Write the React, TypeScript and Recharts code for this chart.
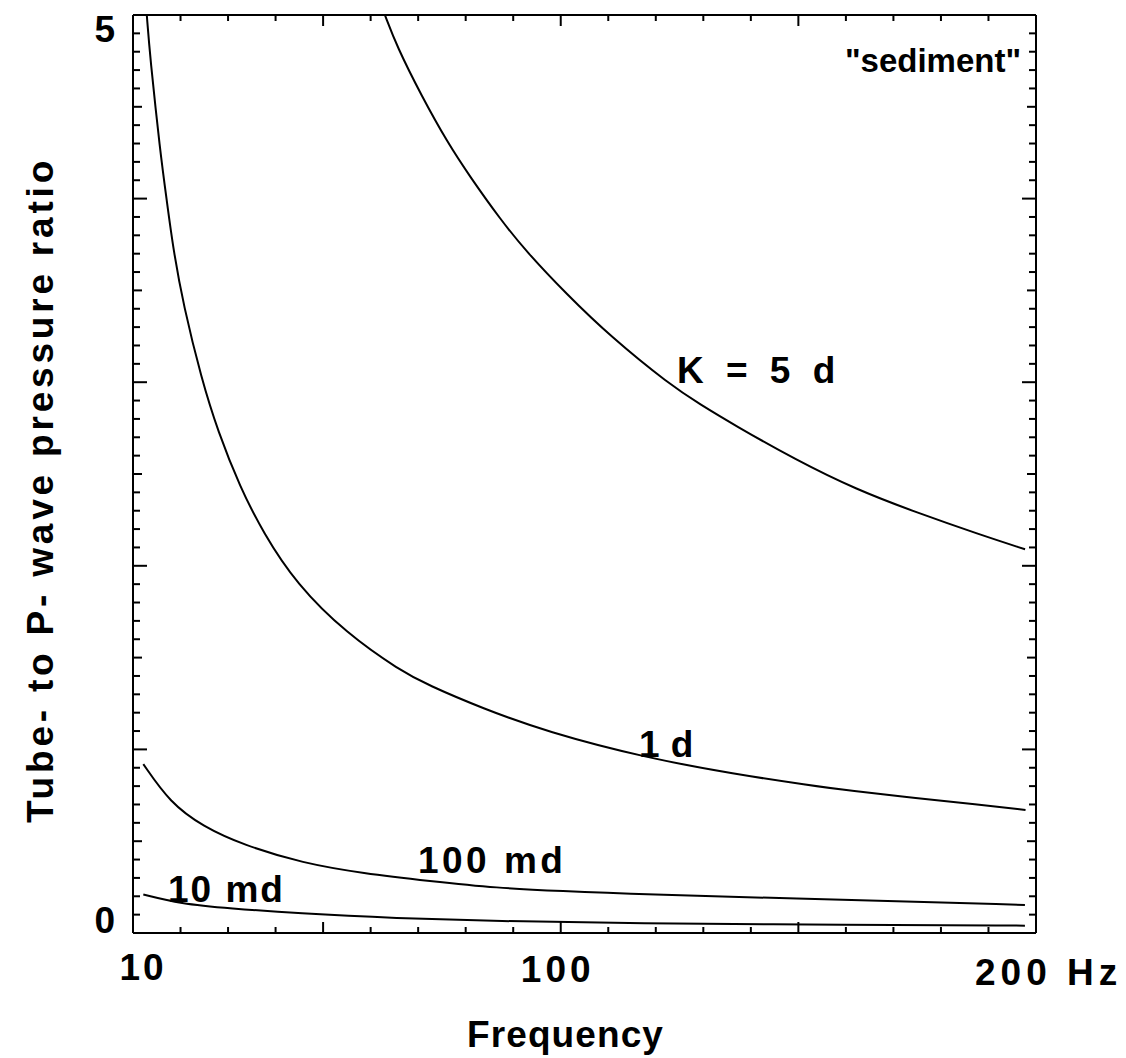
import React from "react";
import { Label, Line, LineChart, ReferenceDot, XAxis, YAxis } from "recharts";

const FONT = '"Liberation Sans", Arial, Helvetica, sans-serif';

// curves: frequency (Hz) and tube-to-P pressure ratio
const K5D_FREQ = [63.0, 65.5, 70.7, 76.3, 80.9, 87.2, 92.8, 101.2, 110.4, 123.0, 129.3, 136.3, 149.6, 162.2, 174.9, 188.2, 197.7];
const K5D_RATIO = [5.0, 4.83, 4.56, 4.3, 4.12, 3.89, 3.71, 3.48, 3.25, 2.985, 2.88, 2.77, 2.575, 2.415, 2.29, 2.17, 2.09];

const K1D_FREQ = [12.9, 13.6, 15.7, 17.1, 18.5, 20.6, 24.4, 27.9, 32.5, 37.4, 44.4, 55.0, 66.2, 72.1, 83.4, 97.1, 117.8, 136.7, 152.2, 160.9, 174.9, 187.5, 197.8];
const K1D_RATIO = [5.0, 4.77, 4.26, 3.99, 3.72, 3.42, 3.02, 2.73, 2.43, 2.18, 1.9, 1.63, 1.43, 1.35, 1.225, 1.095, 0.955, 0.865, 0.805, 0.775, 0.735, 0.7, 0.67];

const K100MD_FREQ = [12.17, 17.78, 24.73, 33.14, 45.77, 58.39, 72.49, 86.52, 100.47, 114.57, 160.85, 197.67];
const K100MD_RATIO = [0.92, 0.71, 0.58, 0.48, 0.38, 0.325, 0.283, 0.245, 0.228, 0.212, 0.18, 0.153];

const K10MD_FREQ = [12.17, 19.89, 30.41, 44.44, 65.48, 86.52, 114.57, 160.85, 197.67];
const K10MD_RATIO = [0.21, 0.16, 0.134, 0.107, 0.08, 0.065, 0.052, 0.045, 0.04];

const X_TICKS = [10, 20, 30, 40, 50, 60, 70, 80, 90, 100, 110, 120, 130, 140, 150, 160, 170, 180, 190, 200];
const X_LABELS: Record<number, string> = { 10: "10", 100: "100", 200: "200 Hz" };
const Y_TICKS = Array.from({ length: 51 }, (_, i) => i / 10);
const Y_LABELS: Record<number, string> = { 0: "0", 5: "5" };

// curve labels, anchored in data units (left end of the text baseline)
const CURVE_LABELS = [
  { text: "K = 5 d", f: 124.45, v: 2.996, spacing: 6, size: 37 },
  { text: "1 d", f: 116.46, v: 0.959, spacing: 0.5, size: 37 },
  { text: "100 md", f: 69.96, v: 0.327, spacing: 3.5, size: 37 },
  { text: "10 md", f: 17.36, v: 0.169, spacing: 2, size: 37 },
  { text: "\"sediment\"", f: 159.8, v: 4.69, spacing: 0, size: 33 }
];

function zip(freq: number[], ratio: number[]) {
  return freq.map((f, i) => ({ f, v: ratio[i] }));
}

const SERIES = [
  { key: "k5d", data: zip(K5D_FREQ, K5D_RATIO) },
  { key: "k1d", data: zip(K1D_FREQ, K1D_RATIO) },
  { key: "k100md", data: zip(K100MD_FREQ, K100MD_RATIO) },
  { key: "k10md", data: zip(K10MD_FREQ, K10MD_RATIO) }
];

const textStyle = { fontFamily: FONT, fontWeight: 700, fill: "#000" };

function xTickLen(value: number) {
  return value % 50 === 0 ? 11 : 6;
}

function yTickLen(value: number) {
  if (Math.abs(value - Math.round(value)) < 1e-6) return 14;
  if (Math.abs(value * 2 - Math.round(value * 2)) < 1e-6) return 9;
  return 7;
}

function BottomTick(props: any) {
  const { x, y, payload } = props;
  const value = payload.value as number;
  const label = X_LABELS[value];
  let anchor: "start" | "middle" = "middle";
  let dx = 0;
  let dy = 49;
  let spacing = 3;
  if (value === 10) {
    dx = 10;
    dy = 47;
  } else if (value === 100) {
    dx = -3;
    spacing = 4;
  } else if (value === 200) {
    anchor = "start";
    dx = -61;
    dy = 52;
    spacing = 5;
  }
  return (
    <g>
      <line x1={x} y1={y} x2={x} y2={y - xTickLen(value)} stroke="#000" strokeWidth={2} />
      {label ? (
        <text x={x + dx} y={y + dy} textAnchor={anchor} fontSize={37} letterSpacing={spacing} style={textStyle}>
          {label}
        </text>
      ) : null}
    </g>
  );
}

function TopTick(props: any) {
  const { x, y, payload } = props;
  return <line x1={x} y1={y} x2={x} y2={y + xTickLen(payload.value)} stroke="#000" strokeWidth={2} />;
}

function LeftTick(props: any) {
  const { x, y, payload } = props;
  const value = payload.value as number;
  const isWhole = Math.abs(value - Math.round(value)) < 1e-6;
  const label = isWhole ? Y_LABELS[Math.round(value)] : undefined;
  return (
    <g>
      <line x1={x} y1={y} x2={x + yTickLen(value)} y2={y} stroke="#000" strokeWidth={2} />
      {label !== undefined ? (
        <text x={x - 18} y={value > 2 ? y + 27 : y} textAnchor="end" fontSize={37} style={textStyle}>
          {label}
        </text>
      ) : null}
    </g>
  );
}

function RightTick(props: any) {
  const { x, y, payload } = props;
  return <line x1={x} y1={y} x2={x - yTickLen(payload.value)} y2={y} stroke="#000" strokeWidth={2} />;
}

function FrequencyTitle(props: any) {
  const vb = props.viewBox;
  return (
    <text x={vb.x + 334} y={vb.y + 114} fontSize={37} letterSpacing={1.1} style={textStyle}>
      Frequency
    </text>
  );
}

function RatioTitle(props: any) {
  const vb = props.viewBox;
  const cx = vb.x + 53;
  const cy = vb.y + 475;
  return (
    <text
      x={cx}
      y={cy}
      transform={`rotate(-90 ${cx} ${cy})`}
      textAnchor="middle"
      fontSize={37}
      letterSpacing={3.8}
      style={textStyle}
    >
      Tube- to P- wave pressure ratio
    </text>
  );
}

export default function App() {
  return (
    <div style={{ position: "absolute", left: 0, top: 0, width: 1126, height: 1058, background: "#fff" }}>
      <LineChart width={1126} height={1058} margin={{ top: 0, right: 0, bottom: 0, left: 0 }}>
        <XAxis
          type="number"
          dataKey="f"
          domain={[10, 200]}
          allowDataOverflow
          ticks={X_TICKS}
          interval={0}
          height={125}
          tickSize={0}
          tickMargin={0}
          tickLine={false}
          axisLine={{ stroke: "#000", strokeWidth: 2 }}
          tick={(p: any) => <BottomTick {...p} />}
        >
          <Label content={(p: any) => <FrequencyTitle {...p} />} />
        </XAxis>
        <XAxis
          xAxisId="top"
          orientation="top"
          type="number"
          dataKey="f"
          domain={[10, 200]}
          allowDataOverflow
          ticks={X_TICKS}
          interval={0}
          height={15}
          tickSize={0}
          tickMargin={0}
          tickLine={false}
          axisLine={{ stroke: "#000", strokeWidth: 2 }}
          tick={(p: any) => <TopTick {...p} />}
        />
        <YAxis
          type="number"
          domain={[0, 5]}
          allowDataOverflow
          ticks={Y_TICKS}
          interval={0}
          width={133}
          tickSize={0}
          tickMargin={0}
          tickLine={false}
          axisLine={{ stroke: "#000", strokeWidth: 2 }}
          tick={(p: any) => <LeftTick {...p} />}
        >
          <Label content={(p: any) => <RatioTitle {...p} />} />
        </YAxis>
        <YAxis
          yAxisId="right"
          orientation="right"
          type="number"
          domain={[0, 5]}
          allowDataOverflow
          ticks={Y_TICKS}
          interval={0}
          width={90}
          tickSize={0}
          tickMargin={0}
          tickLine={false}
          axisLine={{ stroke: "#000", strokeWidth: 2 }}
          tick={(p: any) => <RightTick {...p} />}
        />
        {SERIES.map((s) => (
          <Line
            key={s.key}
            data={s.data}
            dataKey="v"
            type="basis"
            stroke="#000"
            strokeWidth={2}
            dot={false}
            activeDot={false}
            isAnimationActive={false}
          />
        ))}
        {CURVE_LABELS.map((l) => (
          <ReferenceDot
            key={l.text}
            x={l.f}
            y={l.v}
            r={0}
            ifOverflow="visible"
            shape={(p: any) => (
              <text x={p.cx} y={p.cy} fontSize={l.size} letterSpacing={l.spacing} style={textStyle}>
                {l.text}
              </text>
            )}
          />
        ))}
      </LineChart>
    </div>
  );
}
